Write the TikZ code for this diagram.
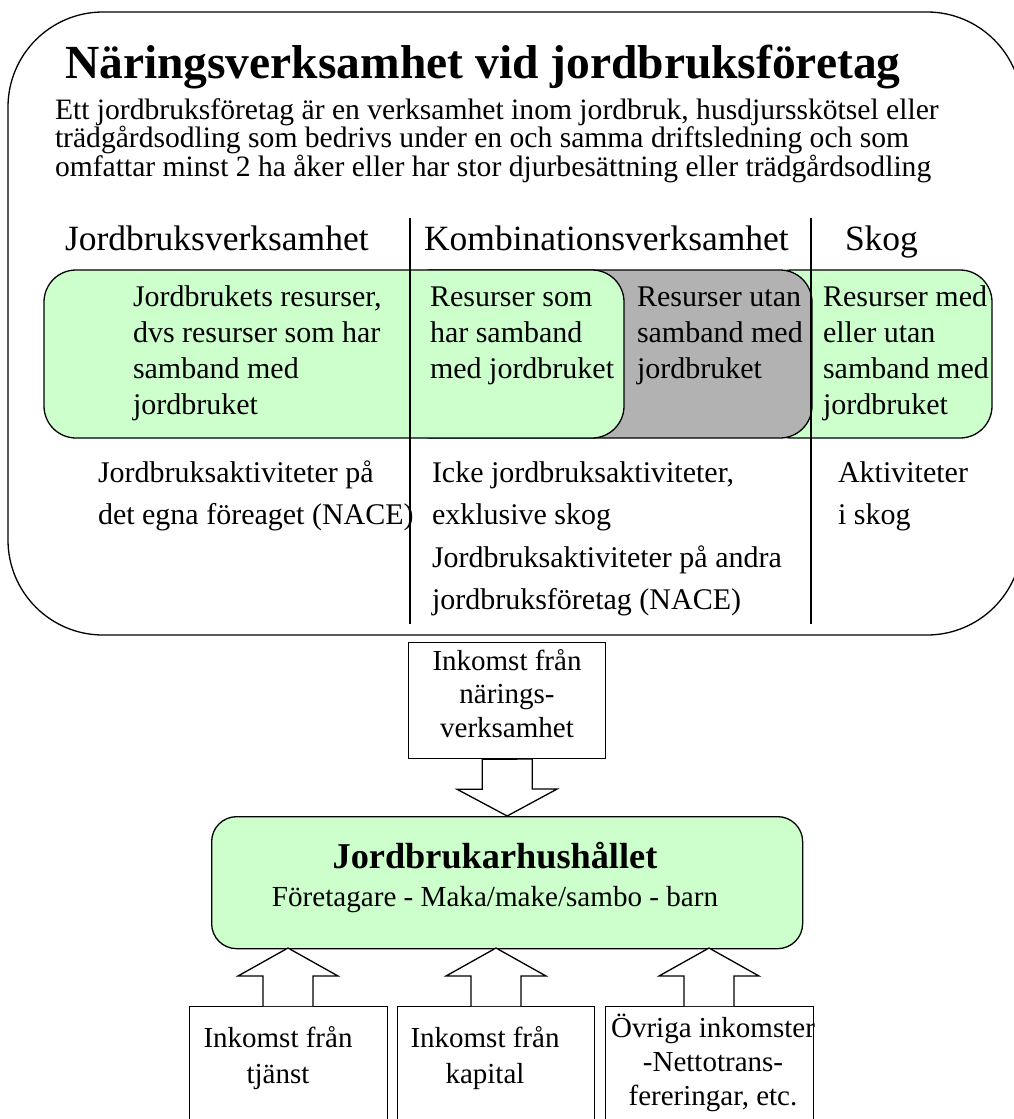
\documentclass[tikz,border=0pt]{standalone}
\usepackage{fontspec}
\setmainfont{Liberation Serif}
\usetikzlibrary{calc}
\definecolor{lgreen}{RGB}{204,255,204}
\definecolor{dgray}{RGB}{178,178,178}
\newcommand\fs[2]{\fontsize{#1}{#2}\selectfont}
\begin{document}
\begin{tikzpicture}[x=1pt,y=-1pt,
  lbl/.style={inner sep=0pt, outer sep=0pt, anchor=base west, align=left},
  clbl/.style={inner sep=0pt, outer sep=0pt, anchor=base, align=center},
  resbox/.style={draw, line width=1.3pt, rounded corners=32pt},
  sepline/.style={line width=2.4pt},
  incbox/.style={draw, line width=1.3pt, fill=white, anchor=north west, inner sep=0pt},
  blockarr/.style={draw, line width=1.3pt, fill=white, line join=miter}]
\useasboundingbox (0,0) rectangle (1014,1119);
\begin{scope}
\clip (0,0) rectangle (1014,1119);
% big frame
\draw[line width=1.3pt, rounded corners=95pt] (8,12) rectangle (1022,635);
% title and definition (multi-line nodes are anchored at their last baseline)
\node[lbl, font=\fs{47.5}{50}\bfseries] (title) at (65,78) {Näringsverksamhet vid jordbruksföretag};
\node[lbl, font=\fs{29.6}{28.5}] (def) at (55,176) {Ett jordbruksföretag är en verksamhet inom jordbruk, husdjursskötsel eller\\trädgårdsodling som bedrivs under en och samma driftsledning och som\\omfattar minst 2 ha åker eller har stor djurbesättning eller trädgårdsodling};
% column headers
\node[lbl, font=\fs{35.5}{40}] (h1) at (65,250) {Jordbruksverksamhet};
\node[lbl, font=\fs{35.5}{40}] (h2) at (424,250) {Kombinationsverksamhet};
\node[lbl, font=\fs{35.5}{40}] (h3) at (845,250) {Skog};
% resource boxes
\path[resbox, fill=lgreen] (760,270) rectangle (992,438);
\path[resbox, fill=dgray] (400,270) rectangle (812,438);
\path[resbox, fill=lgreen] (44,270) rectangle (624,438);
\node[lbl, font=\fs{30}{36}] (r1) at (133,414) {Jordbrukets resurser,\\dvs resurser som har\\samband med\\jordbruket};
\node[lbl, font=\fs{30}{36}] (r2) at (430,378) {Resurser som\\har samband\\med jordbruket};
\node[lbl, font=\fs{30}{36}] (r3) at (637,378) {Resurser utan\\samband med\\jordbruket};
\node[lbl, font=\fs{30}{36}] (r4) at (823,414) {Resurser med\\eller utan\\samband med\\jordbruket};
% activities
\node[lbl, font=\fs{30}{42.6}] (a1) at (98,524.6) {Jordbruksaktiviteter på\\det egna föreaget (NACE)};
\node[lbl, font=\fs{30}{42.6}] (a2) at (432,609.8) {Icke jordbruksaktiviteter,\\exklusive skog\\Jordbruksaktiviteter på andra\\jordbruksföretag (NACE)};
\node[lbl, font=\fs{30}{42.6}] (a3) at (838,524.6) {Aktiviteter\\i skog};
% separators
\draw[sepline] (410,218) -- (410,624);
\draw[sepline] (811,218) -- (811,624);
% household
\node[draw, line width=1.3pt, fill=lgreen, rounded corners=25pt, anchor=north west, minimum width=591pt, minimum height=132pt, inner sep=0pt] (hh) at (211,816) {};
\node[clbl, font=\fs{36.3}{40}\bfseries] (hht) at (495,868) {Jordbrukarhushållet};
\node[clbl, font=\fs{29.1}{34}] (hhs) at (495,906) {Företagare - Maka/make/sambo - barn};
% top income box
\node[incbox, minimum width=197pt, minimum height=116pt] (tb) at (408,642) {};
\node[clbl, font=\fs{29}{33.5}] (tbt) at (507,737) {Inkomst från\\närings-\\verksamhet};
\draw[blockarr] ($(tb.south)+(-25,0)$) -- ++(0,30) -- ++(-25,0) -- (tb.south |- hh.north) -- ++(50,-27) -- ++(-25,0) -- ++(0,-30) -- cycle;
% bottom income boxes
\node[incbox, minimum width=198pt, minimum height=160pt] (b1) at (189,1006) {};
\node[incbox, minimum width=197pt, minimum height=160pt] (b2) at (397,1006) {};
\node[incbox, minimum width=208pt, minimum height=160pt] (b3) at (605,1006) {};
\node[clbl, font=\fs{29}{36}] (b1t) at (278,1083) {Inkomst från\\tjänst};
\node[clbl, font=\fs{29}{36}] (b2t) at (485,1083) {Inkomst från\\kapital};
\node[clbl, font=\fs{29}{34}] (b3t) at (713,1105) {Övriga inkomster\\-Nettotrans-\\fereringar, etc.};
\foreach \b/\t in {b1/288,b2/496,b3/709}{
  \draw[blockarr] (\t-25,1006) -- (\t-25,976) -- (\t-50,976) -- (\t,948) -- (\t+50,976) -- (\t+25,976) -- (\t+25,1006);
}
\end{scope}
\end{tikzpicture}
\end{document}
